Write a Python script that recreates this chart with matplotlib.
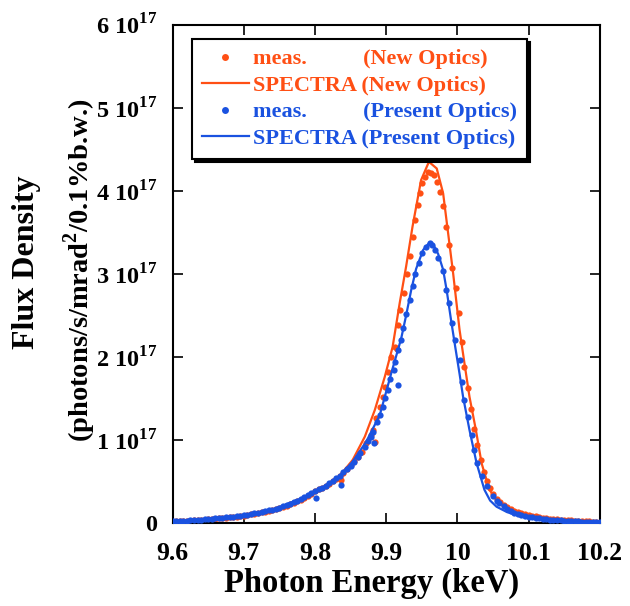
import matplotlib
matplotlib.use("Agg")
import matplotlib.pyplot as plt
from matplotlib.lines import Line2D
from matplotlib.ticker import FixedLocator, FixedFormatter

plt.rcParams['font.family'] = ['Liberation Serif', 'DejaVu Serif']
plt.rcParams['font.weight'] = 'bold'
plt.rcParams['mathtext.fontset'] = 'custom'
plt.rcParams['mathtext.rm'] = 'Liberation Serif:bold'
plt.rcParams['mathtext.bf'] = 'Liberation Serif:bold'

ORANGE = '#ff4f14'
BLUE = '#1a52e0'

# measured, new optics (keV, 1e17 units)
new_meas_x = [9.600, 9.605, 9.610, 9.615, 9.620, 9.625, 9.630, 9.635, 9.640, 9.645,
              9.650, 9.655, 9.660, 9.665, 9.670, 9.675, 9.680, 9.685, 9.690, 9.695,
              9.700, 9.705, 9.710, 9.715, 9.720, 9.725, 9.730, 9.735, 9.740, 9.745,
              9.750, 9.755, 9.760, 9.765, 9.770, 9.775, 9.780, 9.785, 9.790, 9.795,
              9.800, 9.805, 9.810, 9.815, 9.820, 9.825, 9.830, 9.835, 9.840, 9.845,
              9.850, 9.855, 9.860, 9.866, 9.872, 9.878, 9.881, 9.886, 9.892, 9.895,
              9.899, 9.903, 9.907, 9.912, 9.916, 9.920, 9.925, 9.929, 9.933, 9.937,
              9.941, 9.945, 9.947, 9.950, 9.954, 9.959, 9.963, 9.967, 9.971, 9.975,
              9.980, 9.984, 9.988, 9.993, 9.998, 10.002, 10.006, 10.010, 10.015, 10.019,
              10.023, 10.028, 10.033, 10.037, 10.041, 10.046, 10.050, 10.055, 10.060, 10.065,
              10.070, 10.075, 10.080, 10.085, 10.090, 10.095, 10.100, 10.105, 10.110, 10.115,
              10.120, 10.125, 10.130, 10.135, 10.140, 10.145, 10.150, 10.155, 10.160, 10.165,
              10.170, 10.175, 10.180, 10.185, 10.190, 10.195, 10.200,
              9.837, 9.884, 9.915]
new_meas_y = [0.016, 0.018, 0.020, 0.022, 0.025, 0.027, 0.030, 0.033, 0.036, 0.039,
              0.042, 0.046, 0.050, 0.054, 0.058, 0.063, 0.068, 0.073, 0.078, 0.084,
              0.090, 0.097, 0.104, 0.112, 0.120, 0.129, 0.138, 0.148, 0.158, 0.170,
              0.182, 0.196, 0.210, 0.226, 0.243, 0.261, 0.280, 0.305, 0.330, 0.355,
              0.380, 0.405, 0.420, 0.445, 0.475, 0.505, 0.535, 0.565, 0.605, 0.650,
              0.695, 0.745, 0.795, 0.86, 0.96, 1.06, 1.12, 1.26, 1.40, 1.52,
              1.64, 1.82, 2.00, 2.12, 2.39, 2.57, 2.77, 3.00, 3.22, 3.44,
              3.65, 3.83, 3.97, 4.09, 4.17, 4.23, 4.21, 4.19, 4.11, 3.99,
              3.82, 3.57, 3.35, 3.07, 2.83, 2.53, 2.18, 1.88, 1.63, 1.37,
              1.13, 0.94, 0.76, 0.62, 0.50, 0.42, 0.35, 0.29, 0.25, 0.215,
              0.19, 0.17, 0.15, 0.135, 0.12, 0.108, 0.097, 0.088, 0.080, 0.072,
              0.065, 0.059, 0.053, 0.048, 0.044, 0.040, 0.036, 0.033, 0.030, 0.027,
              0.024, 0.022, 0.020, 0.018, 0.016, 0.014, 0.013,
              0.52, 0.98, 2.09]

# measured, present optics
pres_meas_x = [9.600, 9.605, 9.610, 9.615, 9.620, 9.625, 9.630, 9.635, 9.640, 9.645,
               9.650, 9.655, 9.660, 9.665, 9.670, 9.675, 9.680, 9.685, 9.690, 9.695,
               9.700, 9.705, 9.710, 9.715, 9.720, 9.725, 9.730, 9.735, 9.740, 9.745,
               9.750, 9.755, 9.760, 9.765, 9.770, 9.775, 9.780, 9.785, 9.790, 9.795,
               9.800, 9.805, 9.810, 9.815, 9.820, 9.825, 9.830, 9.835, 9.840, 9.845,
               9.850, 9.855, 9.860, 9.863, 9.870, 9.874, 9.878, 9.882, 9.887, 9.891,
               9.895, 9.899, 9.902, 9.905, 9.911, 9.913, 9.917, 9.921, 9.924, 9.928,
               9.933, 9.937, 9.941, 9.946, 9.951, 9.956, 9.961, 9.965, 9.969, 9.973,
               9.980, 9.984, 9.988, 9.993, 9.997, 10.003, 10.007, 10.010, 10.015, 10.020,
               10.023, 10.028, 10.034, 10.041, 10.050, 10.055, 10.059, 10.065, 10.070, 10.075,
               10.080, 10.085, 10.090, 10.095, 10.100, 10.105, 10.110, 10.115, 10.120, 10.125,
               10.130, 10.135, 10.140, 10.145, 10.150, 10.155, 10.160, 10.165, 10.170, 10.175,
               10.180, 10.185, 10.190, 10.195, 10.200,
               9.802, 9.836, 9.883, 9.916]
pres_meas_y = [0.020, 0.022, 0.024, 0.026, 0.029, 0.031, 0.034, 0.037, 0.040, 0.043,
               0.046, 0.050, 0.054, 0.058, 0.062, 0.067, 0.072, 0.077, 0.082, 0.088,
               0.094, 0.101, 0.108, 0.116, 0.124, 0.133, 0.142, 0.152, 0.162, 0.174,
               0.186, 0.200, 0.214, 0.230, 0.247, 0.265, 0.284, 0.310, 0.335, 0.360,
               0.385, 0.410, 0.425, 0.450, 0.480, 0.510, 0.540, 0.570, 0.610, 0.650,
               0.690, 0.735, 0.790, 0.84, 0.92, 0.99, 1.04, 1.10, 1.22, 1.30,
               1.40, 1.50, 1.60, 1.74, 1.84, 1.94, 2.08, 2.20, 2.35, 2.52,
               2.69, 2.86, 3.00, 3.13, 3.25, 3.33, 3.37, 3.35, 3.29, 3.19,
               3.03, 2.81, 2.65, 2.41, 2.20, 1.96, 1.70, 1.48, 1.28, 1.06,
               0.88, 0.72, 0.56, 0.44, 0.32, 0.27, 0.24, 0.20, 0.17, 0.145,
               0.125, 0.110, 0.095, 0.085, 0.075, 0.067, 0.060, 0.054, 0.049, 0.044,
               0.040, 0.036, 0.033, 0.030, 0.027, 0.025, 0.023, 0.021, 0.019, 0.017,
               0.015, 0.014, 0.012, 0.011, 0.010,
               0.30, 0.46, 0.96, 1.66]

# SPECTRA calculations
new_calc_x = [9.600, 9.650, 9.693, 9.739, 9.785, 9.809, 9.833, 9.853, 9.870, 9.884,
              9.898, 9.909, 9.919, 9.928, 9.937, 9.949, 9.960, 9.971, 9.980, 9.987,
              9.994, 10.003, 10.010, 10.017, 10.026, 10.034, 10.045, 10.055, 10.064, 10.078,
              10.092, 10.115, 10.150, 10.200]
new_calc_y = [0.018, 0.040, 0.078, 0.148, 0.295, 0.400, 0.550, 0.760, 1.04, 1.36,
              1.76, 2.12, 2.65, 3.09, 3.57, 4.13, 4.35, 4.27, 3.97, 3.49,
              3.01, 2.33, 1.92, 1.52, 1.12, 0.72, 0.40, 0.28, 0.22, 0.16,
              0.117, 0.075, 0.040, 0.015]

pres_calc_x = [9.600, 9.650, 9.693, 9.739, 9.785, 9.809, 9.833, 9.853, 9.872, 9.891,
               9.907, 9.921, 9.928, 9.935, 9.942, 9.952, 9.961, 9.967, 9.973, 9.980,
               9.985, 9.991, 9.997, 10.003, 10.008, 10.017, 10.027, 10.038, 10.046, 10.055,
               10.070, 10.083, 10.115, 10.150, 10.200]
pres_calc_y = [0.020, 0.045, 0.085, 0.155, 0.310, 0.420, 0.550, 0.740, 0.98, 1.30,
               1.80, 2.22, 2.50, 2.80, 3.06, 3.29, 3.38, 3.34, 3.24, 3.05,
               2.80, 2.45, 2.12, 1.80, 1.52, 1.12, 0.72, 0.40, 0.27, 0.196,
               0.13, 0.096, 0.057, 0.035, 0.012]

x_ticks = [9.6, 9.7, 9.8, 9.9, 10.0, 10.1, 10.2]
x_labels = ['9.6', '9.7', '9.8', '9.9', '10', '10.1', '10.2']
y_ticks = [0, 1, 2, 3, 4, 5, 6]
y_labels = ['0'] + [r'%d 10$^{17}$' % v for v in y_ticks[1:]]

fig = plt.figure(figsize=(6.3, 6.06), dpi=100)
ax = fig.add_axes([0.274, 0.137, 0.678, 0.822])

ax.plot(new_meas_x, new_meas_y, 'o', color=ORANGE, ms=4.5, mew=0, zorder=2)
ax.plot(new_calc_x, new_calc_y, '-', color=ORANGE, lw=1.6, zorder=3)
ax.plot(pres_meas_x, pres_meas_y, 'o', color=BLUE, ms=4.5, mew=0, zorder=4)
ax.plot(pres_calc_x, pres_calc_y, '-', color=BLUE, lw=1.6, zorder=5)

ax.set_xlim(9.6, 10.2)
ax.set_ylim(0, 6)
ax.xaxis.set_major_locator(FixedLocator(x_ticks))
ax.xaxis.set_major_formatter(FixedFormatter(x_labels))
ax.yaxis.set_major_locator(FixedLocator(y_ticks))
ax.yaxis.set_major_formatter(FixedFormatter(y_labels))
ax.tick_params(direction='in', top=True, right=True, length=7, width=1.2,
               labelsize=17.5)
ax.tick_params(axis='x', labelsize=18.5, pad=14)
ax.tick_params(axis='y', pad=11)
for s in ax.spines.values():
    s.set_linewidth(1.5)

ax.set_xlabel('Photon Energy (keV)', fontsize=23.5, fontweight='bold')
ax.xaxis.set_label_coords(0.465, -0.09)

fig.text(27 / 630, 1 - 262 / 606, 'Flux Density', rotation=90, fontsize=23,
         fontweight='bold', ha='center', va='center')
fig.text(80 / 630, 1 - 270 / 606, '(photons/s/mrad$^{2}$/0.1%b.w.)', rotation=90,
         fontsize=20.5, fontweight='bold', ha='center', va='center')

handles = [Line2D([], [], marker='o', ls='none', color=ORANGE, ms=5, mew=0),
           Line2D([], [], color=ORANGE, lw=1.6),
           Line2D([], [], marker='o', ls='none', color=BLUE, ms=5, mew=0),
           Line2D([], [], color=BLUE, lw=1.6)]
labels = ['meas.          (New Optics)', 'SPECTRA (New Optics)',
          'meas.          (Present Optics)', 'SPECTRA (Present Optics)']
leg = ax.legend(handles, labels, loc='upper left', bbox_to_anchor=(0.045, 0.972),
                borderaxespad=0, fontsize=16, frameon=True, fancybox=False,
                handlelength=2.1, handletextpad=0.2, labelspacing=0.27,
                borderpad=0.45, shadow={'color': 'black', 'alpha': 1})
leg.get_frame().set_edgecolor('black')
leg.get_frame().set_linewidth(1.5)
for t, c in zip(leg.get_texts(), [ORANGE, ORANGE, BLUE, BLUE]):
    t.set_color(c)

fig.savefig('out.png', dpi=100)
